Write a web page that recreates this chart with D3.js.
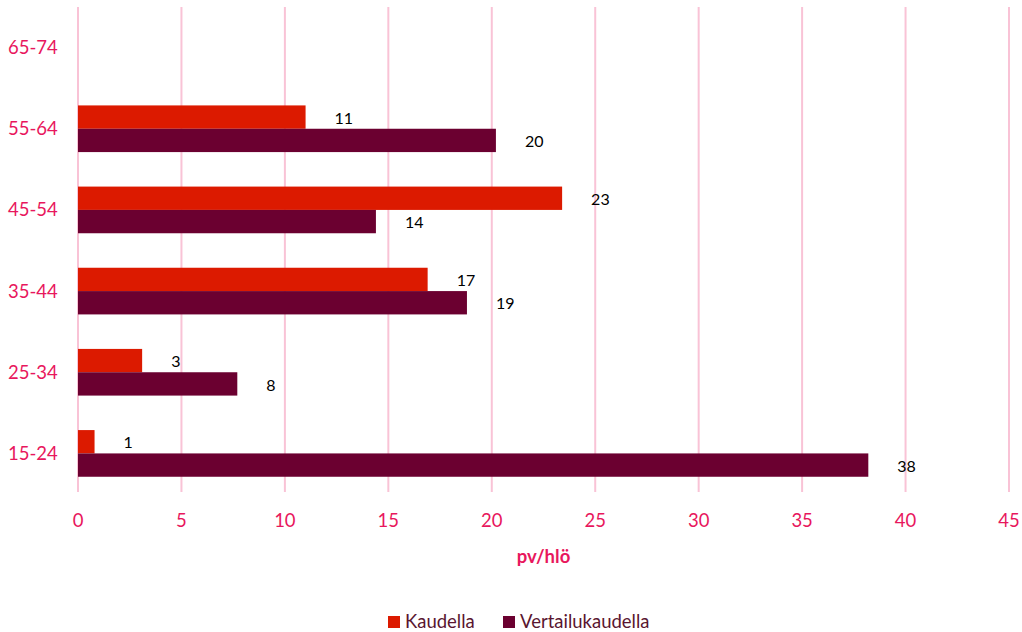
<!DOCTYPE html>
<html>
<head>
<meta charset="utf-8">
<script src="https://cdn.jsdelivr.net/npm/d3@7"></script>
<style>
  body { margin: 0; background: #fff; }
  svg { font-family: Lato, "Open Sans", sans-serif; }
</style>
</head>
<body>
<svg id="chart" width="1022" height="632"></svg>
<script>
// Age groups, bottom to top as drawn
const ageGroups = ['15-24', '25-34', '35-44', '45-54', '55-64', '65-74'];
// pv/hlö per group (null = no data)
const kaudella = [0.8, 3.1, 16.9, 23.4, 11.0, null];
const vertailukaudella = [38.2, 7.7, 18.8, 14.4, 20.2, null];
const seriesNames = ['Kaudella', 'Vertailukaudella'];
const xTicks = [0, 5, 10, 15, 20, 25, 30, 35, 40, 45];

const colors = { Kaudella: '#dc1a00', Vertailukaudella: '#6b0030' };
const pink = '#e8175d';

const svg = d3.select('#chart');
const width = +svg.attr('width');
const gridTop = 7;
const gridBottom = 492;

const x = d3.scaleLinear()
            .domain([0, 45])
            .range([78, width - 13]);

// top of chart = last group
const y = d3.scaleBand()
            .domain(ageGroups.slice().reverse())
            .range([7, 494])
            .paddingInner(0.425)
            .paddingOuter(0.2125);

const inner = d3.scaleBand()
                .domain(seriesNames)
                .range([0, y.bandwidth()]);

// Gridlines
svg.append('g')
   .selectAll('line')
   .data(xTicks)
   .enter()
   .append('line')
   .attr('x1', d => x(d))
   .attr('x2', d => x(d))
   .attr('y1', gridTop)
   .attr('y2', gridBottom)
   .attr('stroke', '#f9c3d6')
   .attr('stroke-width', 2);

// Tick labels
svg.append('g')
   .selectAll('text')
   .data(xTicks)
   .enter()
   .append('text')
   .attr('x', d => x(d))
   .attr('y', 521)
   .attr('dy', '0.35em')
   .attr('text-anchor', 'middle')
   .attr('fill', pink)
   .style('font-size', '18.5px')
   .text(d => d);

svg.append('g')
   .selectAll('text')
   .data(ageGroups)
   .enter()
   .append('text')
   .attr('x', 8)
   .attr('y', d => y(d) + y.bandwidth() / 2)
   .attr('dy', '0.35em')
   .attr('fill', pink)
   .style('font-size', '18.5px')
   .text(d => d);

// Axis title
svg.append('text')
   .attr('x', (x(0) + x(45)) / 2)
   .attr('y', 557)
   .attr('dy', '0.35em')
   .attr('text-anchor', 'middle')
   .attr('fill', pink)
   .style('font-size', '18.5px')
   .style('font-weight', 'bold')
   .text('pv/hlö');

// Bars
const rows = [];
ageGroups.forEach((g, i) => {
   rows.push({ group: g, series: 'Kaudella', value: kaudella[i] });
   rows.push({ group: g, series: 'Vertailukaudella', value: vertailukaudella[i] });
});
const data = rows.filter(d => d.value !== null);

svg.append('g')
   .selectAll('rect')
   .data(data)
   .enter()
   .append('rect')
   .attr('x', x(0))
   .attr('y', d => y(d.group) + inner(d.series))
   .attr('width', d => x(d.value) - x(0))
   .attr('height', inner.bandwidth())
   .attr('fill', d => colors[d.series]);

// Value labels
svg.append('g')
   .selectAll('text')
   .data(data)
   .enter()
   .append('text')
   .attr('x', d => x(d.value) + 29)
   .attr('y', d => y(d.group) + inner(d.series) + inner.bandwidth() / 2 + 1)
   .attr('dy', '0.35em')
   .attr('fill', '#000')
   .style('font-size', '16px')
   .text(d => Math.round(d.value));

// Legend
const legendItems = [
   { name: 'Kaudella', x: 388 },
   { name: 'Vertailukaudella', x: 503 }
];
const lg = svg.append('g')
              .selectAll('g')
              .data(legendItems)
              .enter()
              .append('g')
              .attr('transform', d => 'translate(' + d.x + ',622)');

lg.append('rect')
  .attr('x', 0)
  .attr('y', -6)
  .attr('width', 12)
  .attr('height', 12)
  .attr('fill', d => colors[d.name]);

lg.append('text')
  .attr('x', 17)
  .attr('dy', '0.35em')
  .attr('fill', '#5a1630')
  .style('font-size', '18.5px')
  .text(d => d.name);
</script>
</body>
</html>
